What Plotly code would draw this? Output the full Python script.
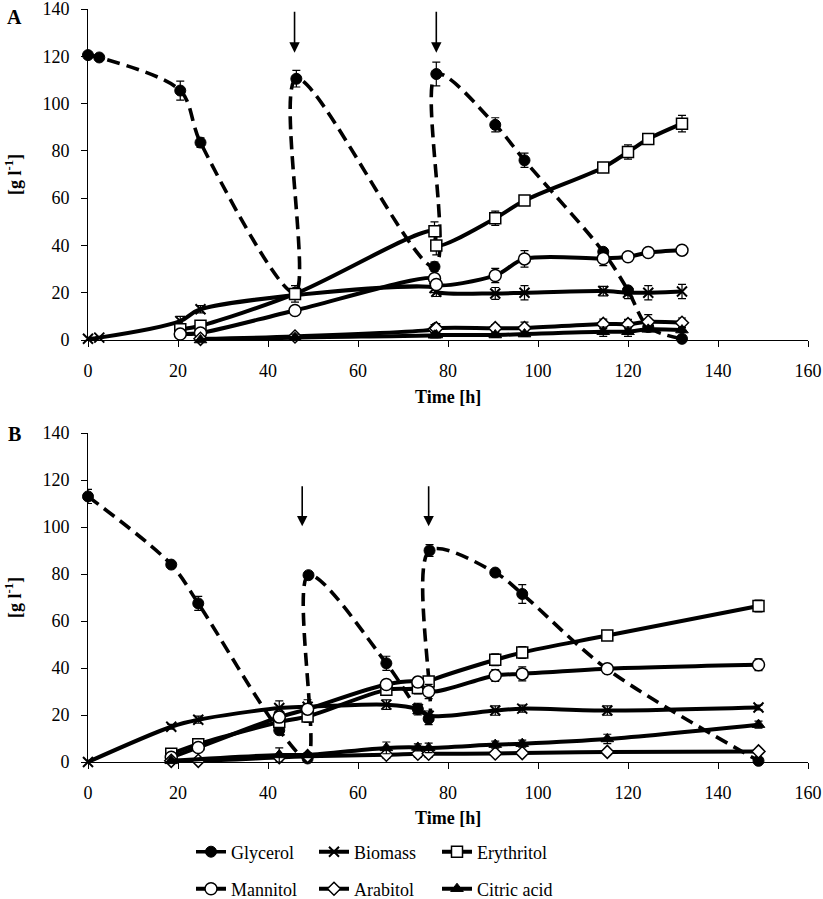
import plotly.graph_objects as go

# ---------------- data: panel A ----------------
time_A = [0, 2.5, 20.5, 25, 46, 46.3, 77, 77.4, 90.5, 97, 114.5, 120, 124.5, 132]
glycerol_A = [120.5, 119.5, 105.5, 83.5, 20, 110.5, 31, 112.5, 91, 76, 37.3, 21, 5.5, 0.5]
glycerol_A_err = [1, 1, 4, 2, 0, 3.5, 2, 5, 3, 3, 1, 1, 1, 0.5]
biomass_A = [0.5, 1, 8, 13, None, None, 22, 20.4, 19.7, 20, 20.7, 20, 20, 20.5]
biomass_A_err = [0.3, 0.3, 2, 1.5, 0, 0, 2, 2, 2.5, 3, 2, 2.5, 3, 3]
erythritol_A = [None, None, 4.5, 6, 19.5, None, 46, 40, 51.5, 59, 73, 79.5, 85, 91.5]
erythritol_A_err = [0, 0, 1, 1.5, 3.5, 0, 4, 4, 3, 2, 1, 3, 1, 3.5]
mannitol_A = [None, None, 2.5, 3, 12.5, None, 26, 23.5, 27.3, 34.3, 34.5, 35.2, 37, 38]
mannitol_A_err = [0, 0, 0.5, 0.5, 1, 0, 1, 1, 3, 3.5, 3, 1, 1, 1]
arabitol_A = [None, None, None, 0.5, 1.5, None, 4.5, 4.9, 5, 5.1, 6.8, 6.7, 7.7, 7.3]
arabitol_A_err = [0, 0, 0, 0.3, 1, 0, 2, 2, 1.5, 2.5, 2, 2, 3, 2]
citric_A = [None, None, None, 0, 1, None, 2, 2.1, 2.1, 2.5, 3.5, 3.5, 4.5, 4.2]
citric_A_err = [0, 0, 0, 0, 1.5, 0, 1, 1, 1, 1, 2, 2, 1, 1]

# ---------------- data: panel B ----------------
time_B = [0, 18.5, 24.5, 42.5, 48.8, 49.0, 66.3, 73.3, 75.7, 75.9, 90.5, 96.5, 115.4, 149]
glycerol_B = [113, 84, 67.5, 13.5, 1.5, 79.5, 42, 22.5, 18.4, 90, 80.6, 71.5, 39.5, 0.5]
glycerol_B_err = [3, 1, 3, 1, 1, 1.5, 3, 2, 2.5, 2.5, 1, 4, 1, 0.5]
biomass_B = [0, 15, 18, 23, 23.5, None, 24.4, 22.5, 19.7, None, 21.9, 22.7, 21.9, 23.2]
biomass_B_err = [0, 1, 1.5, 3, 3, 0, 2, 2.5, 2, 0, 2, 1.5, 2, 1]
erythritol_B = [None, 3.5, 7.6, 17, 19.4, None, 30.7, 31.5, 34.3, None, 43.5, 46.6, 53.8, 66.4]
erythritol_B_err = [0, 1, 1.5, 2, 2.5, 0, 2, 2.5, 2, 0, 2.5, 2.5, 1.5, 2.5]
mannitol_B = [None, 2, 6.2, 19.1, 22.5, None, 33, 34, 30, None, 36.8, 37.5, 39.7, 41.4]
mannitol_B_err = [0, 0.5, 1, 2, 2, 0, 2, 2, 3, 0, 2.5, 3, 1.5, 2.5]
arabitol_B = [None, 0.5, 0.5, 2, 2.5, None, 3.1, 3.5, 3.5, None, 3.6, 3.8, 4.3, 4.5]
arabitol_B_err = [0, 0.3, 0.3, 1, 1, 0, 1.5, 1.5, 1.5, 0, 1, 1, 1, 1]
citric_B = [None, 0.5, None, 3, 3, None, 6, 6.2, 6, None, 7.4, 7.8, 9.8, 15.9]
citric_B_err = [0, 0.3, 0, 3, 1, 0, 2.5, 1.5, 2, 0, 1.5, 1.5, 2, 1.5]

series_names = ["Glycerol", "Biomass", "Erythritol", "Mannitol", "Arabitol", "Citric acid"]
x_ticks = [0, 20, 40, 60, 80, 100, 120, 140, 160]
y_ticks = [0, 20, 40, 60, 80, 100, 120, 140]

FONT = "'Liberation Serif', 'Times New Roman', Times, serif"

styles = {
    "Glycerol": dict(symbol="circle", color="black", size=11, lw=1, dash="13px,7px", width=3.6),
    "Biomass": dict(symbol="x-thin", color="black", size=10, lw=2, dash="solid", width=4),
    "Erythritol": dict(symbol="square", color="white", size=11, lw=1.5, dash="solid", width=4),
    "Mannitol": dict(symbol="circle", color="white", size=12, lw=1.5, dash="solid", width=4),
    "Arabitol": dict(symbol="diamond", color="white", size=10, lw=1.5, dash="solid", width=4),
    "Citric acid": dict(symbol="triangle-up", color="black", size=11, lw=1, dash="solid", width=4),
}

panel_A = [glycerol_A, biomass_A, erythritol_A, mannitol_A, arabitol_A, citric_A]
panel_A_err = [glycerol_A_err, biomass_A_err, erythritol_A_err, mannitol_A_err, arabitol_A_err, citric_A_err]
panel_B = [glycerol_B, biomass_B, erythritol_B, mannitol_B, arabitol_B, citric_B]
panel_B_err = [glycerol_B_err, biomass_B_err, erythritol_B_err, mannitol_B_err, arabitol_B_err, citric_B_err]

fig = go.Figure()


def add_panel(times, values, errors, xa, ya, show):
    for i, (name, ys, es) in enumerate(zip(series_names, values, errors)):
        st = styles[name]
        xs = [t for t, v in zip(times, ys) if v is not None]
        yv = [v for v in ys if v is not None]
        ev = [e for e, v in zip(es, ys) if v is not None]
        fig.add_trace(go.Scatter(
            x=xs, y=yv, name=name, mode="lines+markers",
            xaxis=xa, yaxis=ya,
            line=dict(color="black", width=st["width"], dash=st["dash"],
                      shape="spline", smoothing=0.9),
            marker=dict(symbol=st["symbol"], size=st["size"], color=st["color"],
                        line=dict(color="black", width=st["lw"])),
            error_y=dict(type="data", array=ev, visible=True, color="black",
                         thickness=1.2, width=4),
            showlegend=show,
            legend="legend" if i < 3 else "legend2",
            cliponaxis=False,
        ))


add_panel(time_A, panel_A, panel_A_err, "x", "y", True)
add_panel(time_B, panel_B, panel_B_err, "x2", "y2", False)

axis_common = dict(
    range=[0, 160], tickvals=x_ticks, showgrid=False, zeroline=False,
    showline=True, linecolor="black", linewidth=1, ticks="outside",
    ticklen=6, tickcolor="black", tickwidth=1, ticklabelstandoff=8,
    ticklabeloverflow="allow",
    tickfont=dict(family=FONT, size=18, color="black"),
)
yaxis_common = dict(
    range=[0, 140], tickvals=y_ticks, showgrid=False, zeroline=False,
    showline=True, linecolor="black", linewidth=1, ticks="outside",
    ticklen=6, tickcolor="black", tickwidth=1, ticklabelstandoff=8,
    ticklabeloverflow="allow",
    tickfont=dict(family=FONT, size=18, color="black"),
)

yA0 = (762 - 340) / 753
yB1 = (762 - 433) / 753

annotations = []
# axis titles
for ypix in (397, 818):
    annotations.append(dict(text="<b>Time [h]</b>", xref="paper", yref="paper",
                            x=0.5, y=(762 - ypix) / 753, showarrow=False,
                            xanchor="center", yanchor="middle",
                            font=dict(family=FONT, size=18, color="black")))
for ypix in (175, 598):
    annotations.append(dict(text="<b>[g l<sup>-1</sup>]</b>", xref="paper", yref="paper",
                            x=(13 - 88) / 720, y=(762 - ypix) / 753, showarrow=False,
                            textangle=-90, xanchor="center", yanchor="middle",
                            font=dict(family=FONT, size=18, color="black")))
# panel labels
for lab, ypix in (("A", 17), ("B", 434)):
    annotations.append(dict(text="<b>%s</b>" % lab, xref="paper", yref="paper",
                            x=(14 - 88) / 720, y=(762 - ypix) / 753, showarrow=False,
                            xanchor="center", yanchor="middle",
                            font=dict(family=FONT, size=20, color="black")))
# feeding arrows
for xv in (45.9, 77.4):
    annotations.append(dict(x=xv, y=121.5, ax=xv, ay=139.5, xref="x", yref="y",
                            axref="x", ayref="y", text="", showarrow=True,
                            arrowhead=2, arrowsize=1.3, arrowwidth=1.6, arrowcolor="black"))
for xv in (47.6, 75.7):
    annotations.append(dict(x=xv, y=100.3, ax=xv, ay=118, xref="x2", yref="y2",
                            axref="x2", ayref="y2", text="", showarrow=True,
                            arrowhead=2, arrowsize=1.3, arrowwidth=1.6, arrowcolor="black"))

legend_common = dict(orientation="h", xanchor="left", yanchor="middle",
                     font=dict(family=FONT, size=18, color="black"),
                     entrywidth=78, bgcolor="rgba(0,0,0,0)", itemclick=False)

fig.update_layout(
    width=823, height=899,
    margin=dict(l=88, r=15, t=9, b=137, autoexpand=False),
    paper_bgcolor="white", plot_bgcolor="white",
    font=dict(family=FONT, color="black"),
    xaxis=dict(domain=[0, 1], anchor="y", **axis_common),
    yaxis=dict(domain=[yA0, 1], anchor="x", **yaxis_common),
    xaxis2=dict(domain=[0, 1], anchor="y2", **axis_common),
    yaxis2=dict(domain=[0, yB1], anchor="x2", **yaxis_common),
    legend=dict(x=(191 - 88) / 720, y=(762 - 852) / 753, **legend_common),
    legend2=dict(x=(191 - 88) / 720, y=(762 - 889) / 753, **legend_common),
    annotations=annotations,
    showlegend=True,
)

fig.write_html(
    "out.html",
    config={"displayModeBar": False},
    post_script="document.body.style.margin='0px';document.body.style.overflow='hidden';",
)
